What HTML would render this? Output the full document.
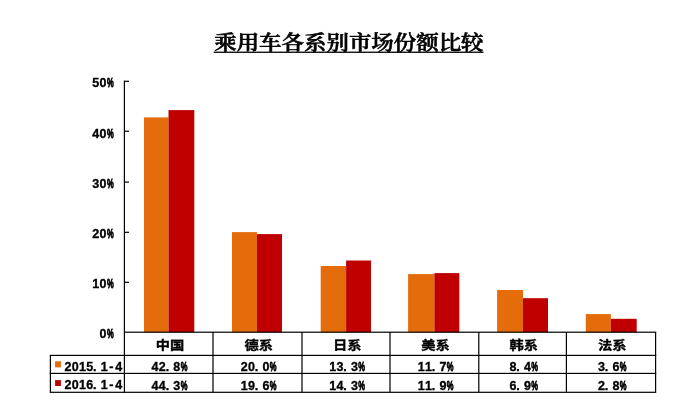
<!DOCTYPE html>
<html lang="zh-CN">
<head>
<meta charset="utf-8">
<title>乘用车各系别市场份额比较</title>
<style>
html,body{margin:0;padding:0;background:#fff;overflow:hidden}
svg{display:block}
text{fill:#000}
</style>
</head>
<body>
<svg width="674" height="403" viewBox="0 0 674 403">
<rect width="674" height="403" fill="#fff"/>
<text x="214.2" y="50" font-family="'Liberation Serif', 'Noto Serif CJK SC', serif" font-weight="600" stroke="#000" stroke-width="0.55" font-size="20.7" textLength="269.4" lengthAdjust="spacingAndGlyphs">乘用车各系别市场份额比较</text>
<rect x="213.7" y="51.6" width="269.8" height="1.3" fill="#000"/>
<rect x="144.0" y="117.4" width="24.5" height="214.8" fill="#E46C0A"/>
<rect x="168.5" y="110.1" width="25.8" height="222.1" fill="#C00000"/>
<rect x="232.0" y="232.1" width="25.0" height="100.1" fill="#E46C0A"/>
<rect x="257.0" y="234.1" width="25.0" height="98.1" fill="#C00000"/>
<rect x="320.7" y="266.0" width="25.4" height="66.2" fill="#E46C0A"/>
<rect x="346.1" y="260.5" width="24.9" height="71.7" fill="#C00000"/>
<rect x="408.1" y="274.1" width="26.3" height="58.1" fill="#E46C0A"/>
<rect x="434.4" y="273.1" width="24.9" height="59.1" fill="#C00000"/>
<rect x="497.1" y="290.0" width="25.9" height="42.2" fill="#E46C0A"/>
<rect x="523.0" y="298.2" width="25.0" height="34.0" fill="#C00000"/>
<rect x="585.8" y="314.1" width="25.1" height="18.1" fill="#E46C0A"/>
<rect x="610.9" y="318.8" width="25.8" height="13.4" fill="#C00000"/>
<rect x="123.8" y="80.6" width="1.2" height="312.3" fill="#000"/>
<rect x="124.4" y="80.7" width="4.6" height="1.2" fill="#000"/>
<text transform="translate(92.25,86.60) scale(0.92,1)" x="0.11 7.99" font-family="'Liberation Sans', sans-serif" font-weight="bold" font-size="13.6" stroke="#000" stroke-width="0.35">50<tspan x="15.98" textLength="7.28" lengthAdjust="spacingAndGlyphs" stroke-width="0.85">%</tspan></text>
<rect x="124.4" y="130.6" width="4.6" height="1.2" fill="#000"/>
<text transform="translate(92.25,137.50) scale(0.92,1)" x="0.11 7.99" font-family="'Liberation Sans', sans-serif" font-weight="bold" font-size="13.6" stroke="#000" stroke-width="0.35">40<tspan x="15.98" textLength="7.28" lengthAdjust="spacingAndGlyphs" stroke-width="0.85">%</tspan></text>
<rect x="124.4" y="181.5" width="4.6" height="1.2" fill="#000"/>
<text transform="translate(92.25,187.50) scale(0.92,1)" x="0.11 7.99" font-family="'Liberation Sans', sans-serif" font-weight="bold" font-size="13.6" stroke="#000" stroke-width="0.35">30<tspan x="15.98" textLength="7.28" lengthAdjust="spacingAndGlyphs" stroke-width="0.85">%</tspan></text>
<rect x="124.4" y="231.7" width="4.6" height="1.2" fill="#000"/>
<text transform="translate(92.25,237.50) scale(0.92,1)" x="0.11 7.99" font-family="'Liberation Sans', sans-serif" font-weight="bold" font-size="13.6" stroke="#000" stroke-width="0.35">20<tspan x="15.98" textLength="7.28" lengthAdjust="spacingAndGlyphs" stroke-width="0.85">%</tspan></text>
<rect x="124.4" y="281.7" width="4.6" height="1.2" fill="#000"/>
<text transform="translate(92.25,288.40) scale(0.92,1)" x="0.11 7.99" font-family="'Liberation Sans', sans-serif" font-weight="bold" font-size="13.6" stroke="#000" stroke-width="0.35">10<tspan x="15.98" textLength="7.28" lengthAdjust="spacingAndGlyphs" stroke-width="0.85">%</tspan></text>
<text transform="translate(99.50,338.40) scale(0.92,1)" x="0.11" font-family="'Liberation Sans', sans-serif" font-weight="bold" font-size="13.6" stroke="#000" stroke-width="0.35">0<tspan x="8.10" textLength="7.28" lengthAdjust="spacingAndGlyphs" stroke-width="0.85">%</tspan></text>
<rect x="124.4" y="331.6" width="531.8" height="1.2" fill="#000"/>
<rect x="49.8" y="354.8" width="606.4" height="1.2" fill="#000"/>
<rect x="49.8" y="372.8" width="606.4" height="1.2" fill="#000"/>
<rect x="49.8" y="391.7" width="606.4" height="1.2" fill="#000"/>
<rect x="49.8" y="355.4" width="1.2" height="36.9" fill="#000"/>
<rect x="212.4" y="332.2" width="1.2" height="60.1" fill="#000"/>
<rect x="301.4" y="332.2" width="1.2" height="60.1" fill="#000"/>
<rect x="389.4" y="332.2" width="1.2" height="60.1" fill="#000"/>
<rect x="478.2" y="332.2" width="1.2" height="60.1" fill="#000"/>
<rect x="565.8" y="332.2" width="1.2" height="60.1" fill="#000"/>
<rect x="655.0" y="332.2" width="1.2" height="60.1" fill="#000"/>
<rect x="55.1" y="361.3" width="5.8" height="6.1" fill="#E46C0A"/>
<rect x="55.1" y="380.1" width="5.8" height="5.9" fill="#C00000"/>
<text transform="translate(64.30,370.50) scale(0.92,1)" x="0.11 7.99 15.87 23.75 31.20 39.51 48.80 55.27" font-family="'Liberation Sans', sans-serif" font-weight="bold" font-size="13.6" stroke="#000" stroke-width="0.35">2015.1-4</text>
<text transform="translate(64.30,389.10) scale(0.92,1)" x="0.11 7.99 15.87 23.75 31.20 39.51 48.80 55.27" font-family="'Liberation Sans', sans-serif" font-weight="bold" font-size="13.6" stroke="#000" stroke-width="0.35">2016.1-4</text>
<text transform="translate(169.9,349.8) scale(1.15,1)" font-family="'Liberation Sans', 'Noto Sans CJK SC', sans-serif" font-weight="bold" font-size="12.4" stroke="#000" stroke-width="0.35" text-anchor="middle">中国</text>
<text transform="translate(151.47,371.00) scale(0.92,1)" x="0.11 7.99 15.43 23.75" font-family="'Liberation Sans', sans-serif" font-weight="bold" font-size="13.6" stroke="#000" stroke-width="0.35">42.8<tspan x="31.74" textLength="7.28" lengthAdjust="spacingAndGlyphs" stroke-width="0.85">%</tspan></text>
<text transform="translate(151.47,389.60) scale(0.92,1)" x="0.11 7.99 15.43 23.75" font-family="'Liberation Sans', sans-serif" font-weight="bold" font-size="13.6" stroke="#000" stroke-width="0.35">44.3<tspan x="31.74" textLength="7.28" lengthAdjust="spacingAndGlyphs" stroke-width="0.85">%</tspan></text>
<text transform="translate(258.7,349.8) scale(1.15,1)" font-family="'Liberation Sans', 'Noto Sans CJK SC', sans-serif" font-weight="bold" font-size="12.4" stroke="#000" stroke-width="0.35" text-anchor="middle">德系</text>
<text transform="translate(240.68,371.00) scale(0.92,1)" x="0.11 7.99 15.43 23.75" font-family="'Liberation Sans', sans-serif" font-weight="bold" font-size="13.6" stroke="#000" stroke-width="0.35">20.0<tspan x="31.74" textLength="7.28" lengthAdjust="spacingAndGlyphs" stroke-width="0.85">%</tspan></text>
<text transform="translate(240.68,389.60) scale(0.92,1)" x="0.11 7.99 15.43 23.75" font-family="'Liberation Sans', sans-serif" font-weight="bold" font-size="13.6" stroke="#000" stroke-width="0.35">19.6<tspan x="31.74" textLength="7.28" lengthAdjust="spacingAndGlyphs" stroke-width="0.85">%</tspan></text>
<text transform="translate(347.2,349.8) scale(1.15,1)" font-family="'Liberation Sans', 'Noto Sans CJK SC', sans-serif" font-weight="bold" font-size="12.4" stroke="#000" stroke-width="0.35" text-anchor="middle">日系</text>
<text transform="translate(329.18,371.00) scale(0.92,1)" x="0.11 7.99 15.43 23.75" font-family="'Liberation Sans', sans-serif" font-weight="bold" font-size="13.6" stroke="#000" stroke-width="0.35">13.3<tspan x="31.74" textLength="7.28" lengthAdjust="spacingAndGlyphs" stroke-width="0.85">%</tspan></text>
<text transform="translate(329.18,389.60) scale(0.92,1)" x="0.11 7.99 15.43 23.75" font-family="'Liberation Sans', sans-serif" font-weight="bold" font-size="13.6" stroke="#000" stroke-width="0.35">14.3<tspan x="31.74" textLength="7.28" lengthAdjust="spacingAndGlyphs" stroke-width="0.85">%</tspan></text>
<text transform="translate(435.6,349.8) scale(1.15,1)" font-family="'Liberation Sans', 'Noto Sans CJK SC', sans-serif" font-weight="bold" font-size="12.4" stroke="#000" stroke-width="0.35" text-anchor="middle">美系</text>
<text transform="translate(417.57,371.00) scale(0.92,1)" x="0.11 7.99 15.43 23.75" font-family="'Liberation Sans', sans-serif" font-weight="bold" font-size="13.6" stroke="#000" stroke-width="0.35">11.7<tspan x="31.74" textLength="7.28" lengthAdjust="spacingAndGlyphs" stroke-width="0.85">%</tspan></text>
<text transform="translate(417.57,389.60) scale(0.92,1)" x="0.11 7.99 15.43 23.75" font-family="'Liberation Sans', sans-serif" font-weight="bold" font-size="13.6" stroke="#000" stroke-width="0.35">11.9<tspan x="31.74" textLength="7.28" lengthAdjust="spacingAndGlyphs" stroke-width="0.85">%</tspan></text>
<text transform="translate(523.8,349.8) scale(1.15,1)" font-family="'Liberation Sans', 'Noto Sans CJK SC', sans-serif" font-weight="bold" font-size="12.4" stroke="#000" stroke-width="0.35" text-anchor="middle">韩系</text>
<text transform="translate(509.40,371.00) scale(0.92,1)" x="0.11 7.55 15.87" font-family="'Liberation Sans', sans-serif" font-weight="bold" font-size="13.6" stroke="#000" stroke-width="0.35">8.4<tspan x="23.86" textLength="7.28" lengthAdjust="spacingAndGlyphs" stroke-width="0.85">%</tspan></text>
<text transform="translate(509.40,389.60) scale(0.92,1)" x="0.11 7.55 15.87" font-family="'Liberation Sans', sans-serif" font-weight="bold" font-size="13.6" stroke="#000" stroke-width="0.35">6.9<tspan x="23.86" textLength="7.28" lengthAdjust="spacingAndGlyphs" stroke-width="0.85">%</tspan></text>
<text transform="translate(612.2,349.8) scale(1.15,1)" font-family="'Liberation Sans', 'Noto Sans CJK SC', sans-serif" font-weight="bold" font-size="12.4" stroke="#000" stroke-width="0.35" text-anchor="middle">法系</text>
<text transform="translate(597.80,371.00) scale(0.92,1)" x="0.11 7.55 15.87" font-family="'Liberation Sans', sans-serif" font-weight="bold" font-size="13.6" stroke="#000" stroke-width="0.35">3.6<tspan x="23.86" textLength="7.28" lengthAdjust="spacingAndGlyphs" stroke-width="0.85">%</tspan></text>
<text transform="translate(597.80,389.60) scale(0.92,1)" x="0.11 7.55 15.87" font-family="'Liberation Sans', sans-serif" font-weight="bold" font-size="13.6" stroke="#000" stroke-width="0.35">2.8<tspan x="23.86" textLength="7.28" lengthAdjust="spacingAndGlyphs" stroke-width="0.85">%</tspan></text>
</svg>
</body>
</html>
